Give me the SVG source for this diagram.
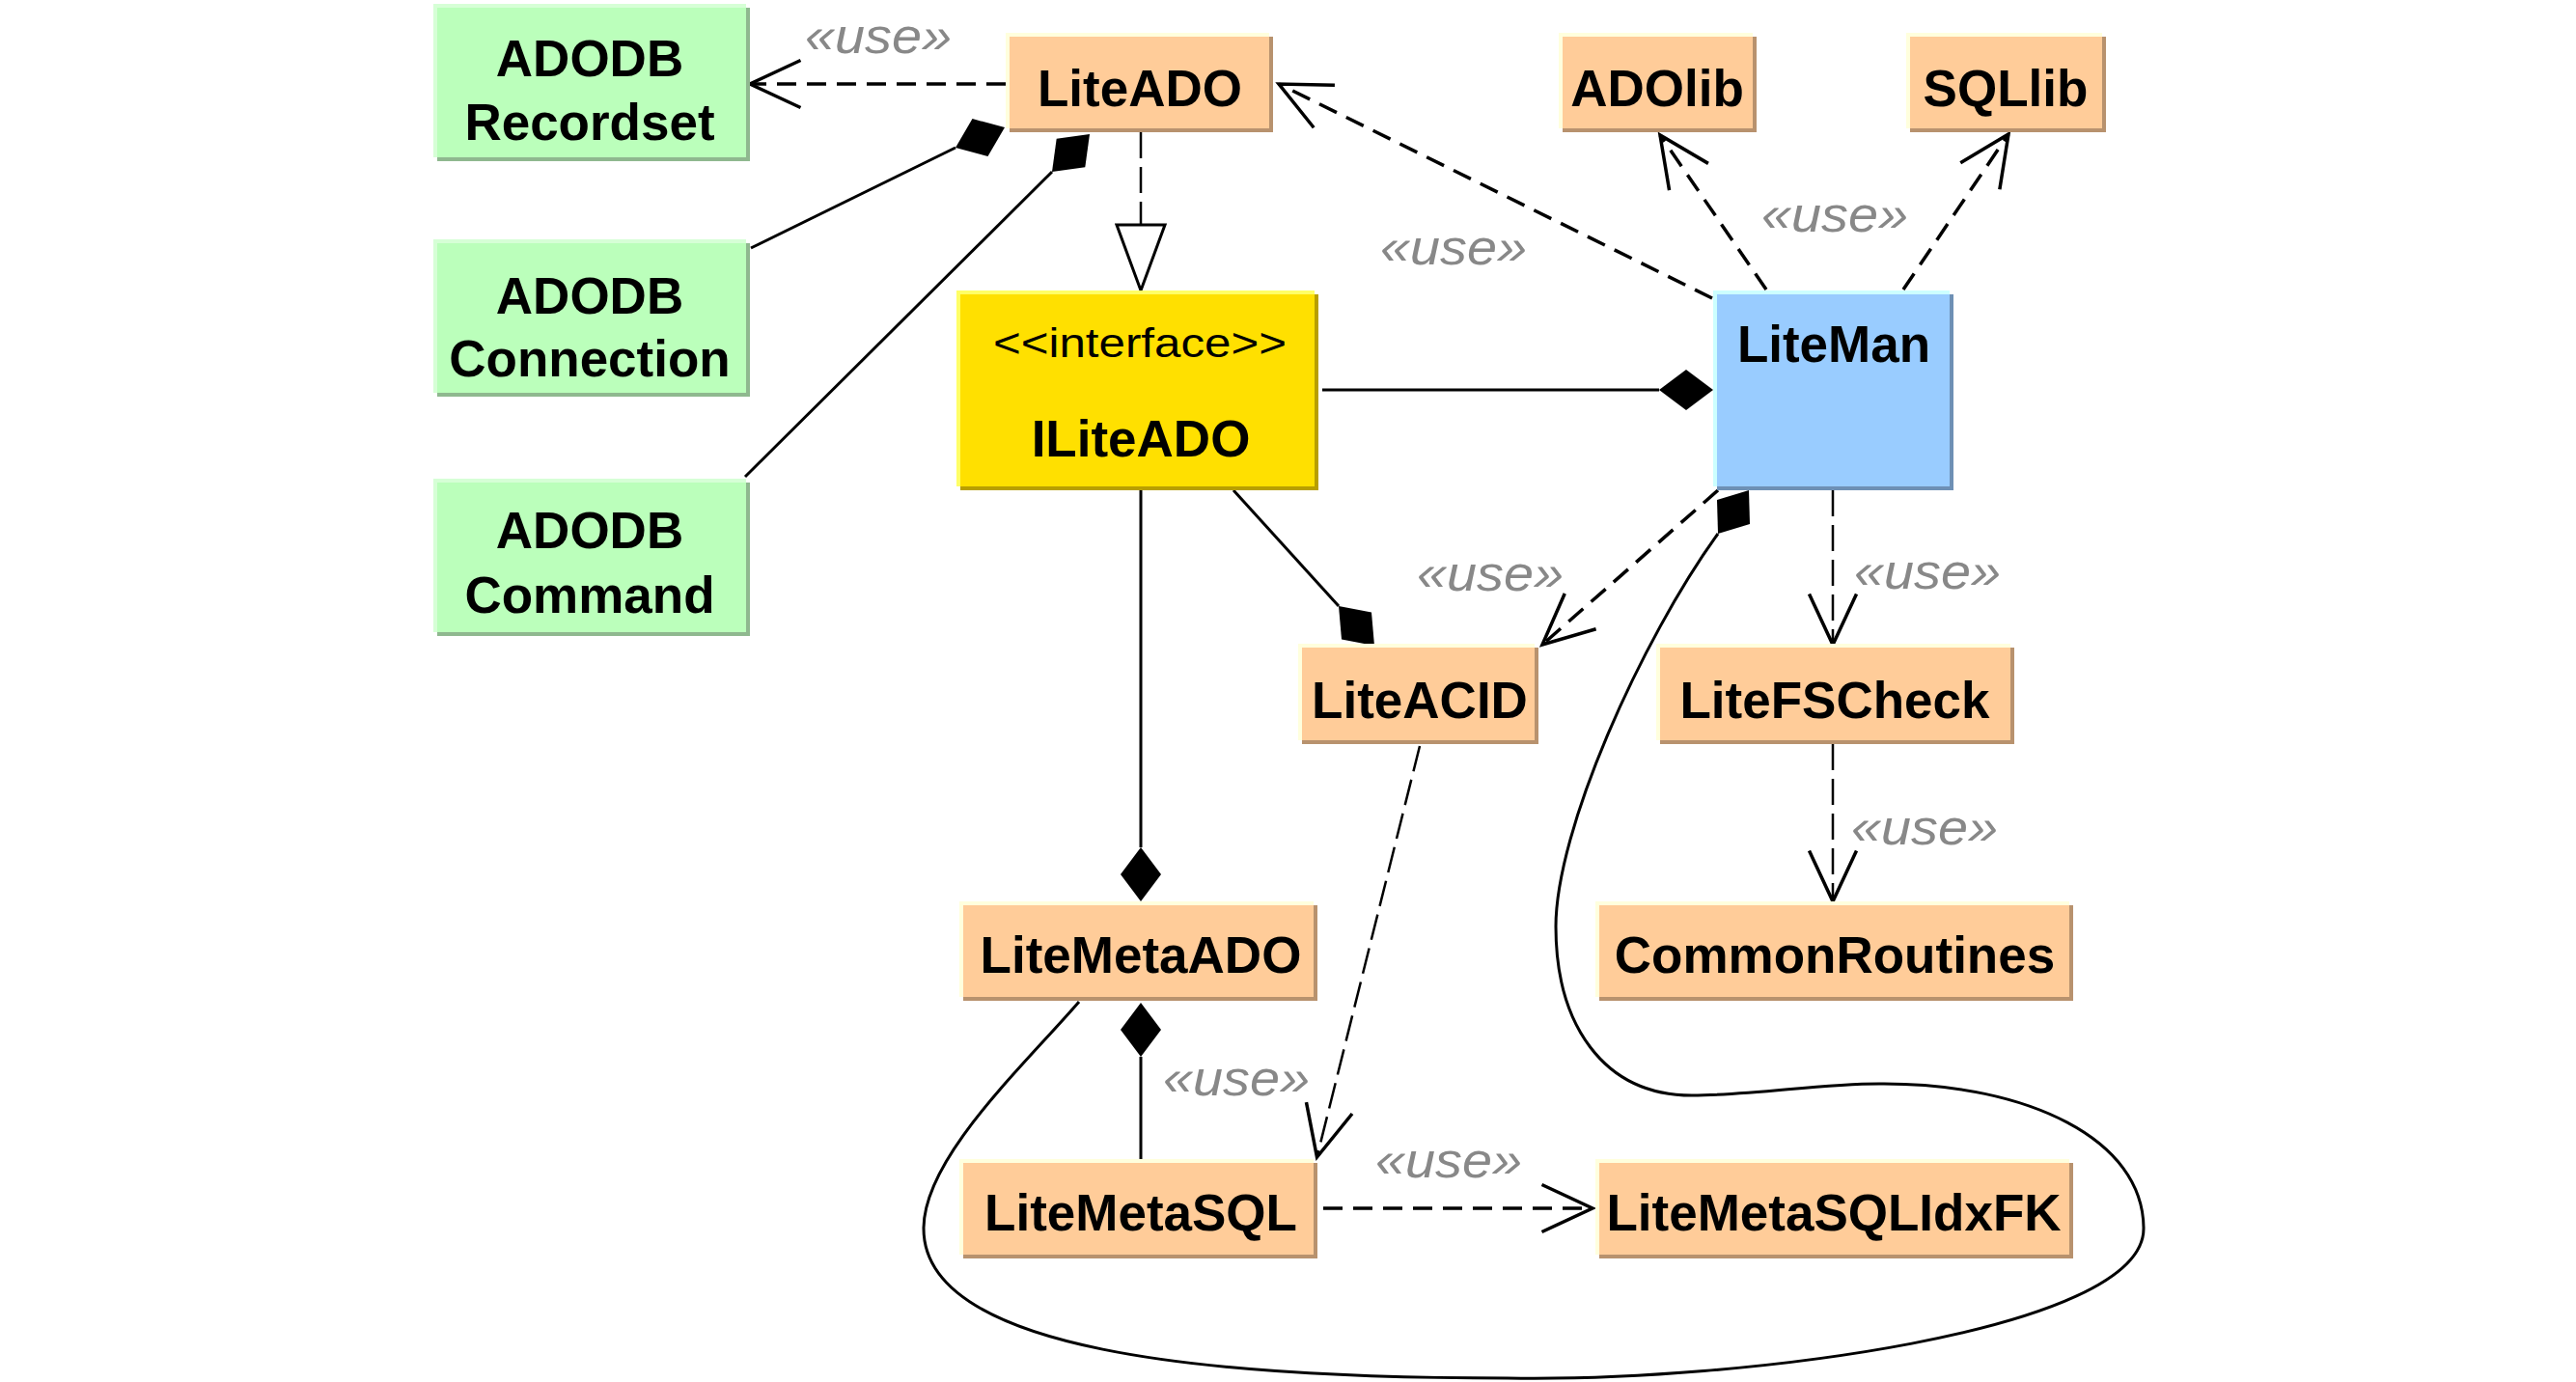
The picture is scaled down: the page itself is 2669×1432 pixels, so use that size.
<svg xmlns="http://www.w3.org/2000/svg" width="2669" height="1432" viewBox="0 0 2669 1432">
<style>
.t{font-family:"Liberation Sans",Arial,sans-serif;font-weight:bold;font-size:53px;text-anchor:middle;fill:#000}
.st{font-family:"Liberation Sans",Arial,sans-serif;font-size:42px;text-anchor:middle;fill:#000}
.u{font-family:"Liberation Sans",Arial,sans-serif;font-style:italic;font-size:52px;fill:#888}
.g{fill:#bbffbb}.g-s{fill:#8fb88f}.g-h{stroke:#d6ffd6}
.o{fill:#ffcc99}.o-s{fill:#b8926e}.o-h{stroke:#ffffdd}
.y{fill:#ffe000}.y-s{fill:#b89f00}.y-h{stroke:#ffff66}
.b{fill:#99ccff}.b-s{fill:#6e90b5}.b-h{stroke:#ccffff}
.hl{fill:none;stroke-width:4}
.solid{fill:none;stroke:#000;stroke-width:3}
.dk{fill:none;stroke:#000;stroke-width:3.5;stroke-dasharray:20 11}
.dn{fill:none;stroke:#000;stroke-width:2.5;stroke-dasharray:27 9}
.dia{fill:#000}
</style>
<defs>
<marker id="arr" markerUnits="userSpaceOnUse" markerWidth="80" markerHeight="80" viewBox="-70 -40 80 80" refX="0" refY="0" orient="auto" overflow="visible">
<path d="M-52.5,-24.5 L0,0 L-52.5,24.5" fill="none" stroke="#000" stroke-width="3.5" stroke-dasharray="none"/>
</marker>
</defs>
<rect x="0" y="0" width="2669" height="1432" fill="#fff"/>

<g id="connectors">
<path class="dk" d="M1042,87 L777,87" marker-end="url(#arr)"/>
<path class="solid" d="M778,257 L990,153"/>
<polygon class="dia" points="990,153 1023.5,161.9 1041,132 1007.5,123.1"/>
<path class="solid" d="M772,494 L1090,178"/>
<polygon class="dia" points="1090,178 1124.3,173.3 1129,139 1094.7,143.7"/>
<path class="dn" d="M1182,137 L1182,233"/>
<polygon points="1157,233 1207,233 1182,301" fill="#fff" stroke="#000" stroke-width="3"/>
<path class="dk" d="M1774,309 L1325,87" marker-end="url(#arr)"/>
<path class="dk" d="M1830,300 L1720,140" marker-end="url(#arr)"/>
<path class="dk" d="M1972,300 L2081,139" marker-end="url(#arr)"/>
<path class="solid" d="M1370,404 L1719,404"/>
<polygon class="dia" points="1719,404 1747,383 1775,404 1747,425"/>
<path class="solid" d="M1278,508 L1387,628"/>
<polygon class="dia" points="1387,628 1421,634.4 1424,669 1390,662.6"/>
<path class="dk" d="M1780,508 L1598,668" marker-end="url(#arr)"/>
<path class="dn" d="M1899,508 L1899,668" marker-end="url(#arr)"/>
<path class="dn" d="M1899,771 L1899,934" marker-end="url(#arr)"/>
<path class="solid" d="M1182,508 L1182,878"/>
<polygon class="dia" points="1182,878 1203,906 1182,934 1161,906"/>
<polygon class="dia" points="1182,1039 1203,1067 1182,1095 1161,1067"/>
<path class="solid" d="M1182,1095 L1182,1201"/>
<path class="dn" d="M1471,773 L1364.5,1199" marker-end="url(#arr)"/>
<path class="dk" d="M1371,1252 L1650,1252" marker-end="url(#arr)"/>
<polygon class="dia" points="1780,553 1813,543 1812,508 1779,518"/>
<path class="solid" d="M1780,553 C1700,664 1612,860 1612,960 C1612,1060 1660,1135 1753,1135 C1820,1135 1890,1122 1952,1123 C2100,1123 2221,1180 2221,1273 C2221,1380 1800,1432 1562,1428 C1250,1428 957,1400 957,1273 C957,1200 1060,1105 1118,1038"/>
<text class="u" x="834" y="55" textLength="152" lengthAdjust="spacingAndGlyphs">«use»</text>
<text class="u" x="1430" y="274" textLength="152" lengthAdjust="spacingAndGlyphs">«use»</text>
<text class="u" x="1825" y="240" textLength="152" lengthAdjust="spacingAndGlyphs">«use»</text>
<text class="u" x="1468" y="612" textLength="152" lengthAdjust="spacingAndGlyphs">«use»</text>
<text class="u" x="1921" y="610" textLength="152" lengthAdjust="spacingAndGlyphs">«use»</text>
<text class="u" x="1918" y="875" textLength="152" lengthAdjust="spacingAndGlyphs">«use»</text>
<text class="u" x="1205" y="1135" textLength="152" lengthAdjust="spacingAndGlyphs">«use»</text>
<text class="u" x="1425" y="1220" textLength="152" lengthAdjust="spacingAndGlyphs">«use»</text>
</g>

<g id="node-recordset">
<rect class="g-s" x="453" y="8" width="324" height="159"/>
<rect class="g" x="449" y="4" width="324" height="159"/>
<path class="hl g-h" d="M451,163 V6 H773"/>
<text class="t" x="611" y="79">ADODB</text>
<text class="t" x="611" y="145">Recordset</text>
</g>
<g id="node-connection">
<rect class="g-s" x="453" y="252" width="324" height="159"/>
<rect class="g" x="449" y="248" width="324" height="159"/>
<path class="hl g-h" d="M451,407 V250 H773"/>
<text class="t" x="611" y="325">ADODB</text>
<text class="t" x="611" y="390">Connection</text>
</g>
<g id="node-command">
<rect class="g-s" x="453" y="500" width="324" height="159"/>
<rect class="g" x="449" y="496" width="324" height="159"/>
<path class="hl g-h" d="M451,655 V498 H773"/>
<text class="t" x="611" y="568">ADODB</text>
<text class="t" x="611" y="635">Command</text>
</g>
<g id="node-liteado">
<rect class="o-s" x="1046" y="38" width="273" height="99"/>
<rect class="o" x="1042" y="34" width="273" height="99"/>
<path class="hl o-h" d="M1044,133 V36 H1315"/>
<text class="t" x="1181" y="110">LiteADO</text>
</g>
<g id="node-adolib">
<rect class="o-s" x="1619" y="38" width="201" height="99"/>
<rect class="o" x="1615" y="34" width="201" height="99"/>
<path class="hl o-h" d="M1617,133 V36 H1816"/>
<text class="t" x="1717" y="110">ADOlib</text>
</g>
<g id="node-sqllib">
<rect class="o-s" x="1979" y="38" width="203" height="99"/>
<rect class="o" x="1975" y="34" width="203" height="99"/>
<path class="hl o-h" d="M1977,133 V36 H2178"/>
<text class="t" x="2078" y="110">SQLlib</text>
</g>
<g id="node-iliteado">
<rect class="y-s" x="995" y="305" width="371" height="203"/>
<rect class="y" x="991" y="301" width="371" height="203"/>
<path class="hl y-h" d="M993,504 V303 H1362"/>
<text class="st" x="1181" y="370" textLength="304" lengthAdjust="spacingAndGlyphs">&lt;&lt;interface&gt;&gt;</text>
<text class="t" x="1182" y="473">ILiteADO</text>
</g>
<g id="node-liteman">
<rect class="b-s" x="1779" y="305" width="245" height="203"/>
<rect class="b" x="1775" y="301" width="245" height="203"/>
<path class="hl b-h" d="M1777,504 V303 H2020"/>
<text class="t" x="1900" y="375">LiteMan</text>
</g>
<g id="node-liteacid">
<rect class="o-s" x="1349" y="671" width="245" height="100"/>
<rect class="o" x="1345" y="667" width="245" height="100"/>
<path class="hl o-h" d="M1347,767 V669 H1590"/>
<text class="t" x="1471" y="744">LiteACID</text>
</g>
<g id="node-litefscheck">
<rect class="o-s" x="1720" y="671" width="367" height="100"/>
<rect class="o" x="1716" y="667" width="367" height="100"/>
<path class="hl o-h" d="M1718,767 V669 H2083"/>
<text class="t" x="1901" y="744">LiteFSCheck</text>
</g>
<g id="node-litemetaado">
<rect class="o-s" x="998" y="938" width="367" height="99"/>
<rect class="o" x="994" y="934" width="367" height="99"/>
<path class="hl o-h" d="M996,1033 V936 H1361"/>
<text class="t" x="1182" y="1008">LiteMetaADO</text>
</g>
<g id="node-commonroutines">
<rect class="o-s" x="1657" y="938" width="491" height="99"/>
<rect class="o" x="1653" y="934" width="491" height="99"/>
<path class="hl o-h" d="M1655,1033 V936 H2144"/>
<text class="t" x="1901" y="1008">CommonRoutines</text>
</g>
<g id="node-litemetasql">
<rect class="o-s" x="998" y="1205" width="367" height="99"/>
<rect class="o" x="994" y="1201" width="367" height="99"/>
<path class="hl o-h" d="M996,1300 V1203 H1361"/>
<text class="t" x="1182" y="1275">LiteMetaSQL</text>
</g>
<g id="node-litemetasqlidxfk">
<rect class="o-s" x="1657" y="1205" width="491" height="99"/>
<rect class="o" x="1653" y="1201" width="491" height="99"/>
<path class="hl o-h" d="M1655,1300 V1203 H2144"/>
<text class="t" x="1900" y="1275">LiteMetaSQLIdxFK</text>
</g>
</svg>
